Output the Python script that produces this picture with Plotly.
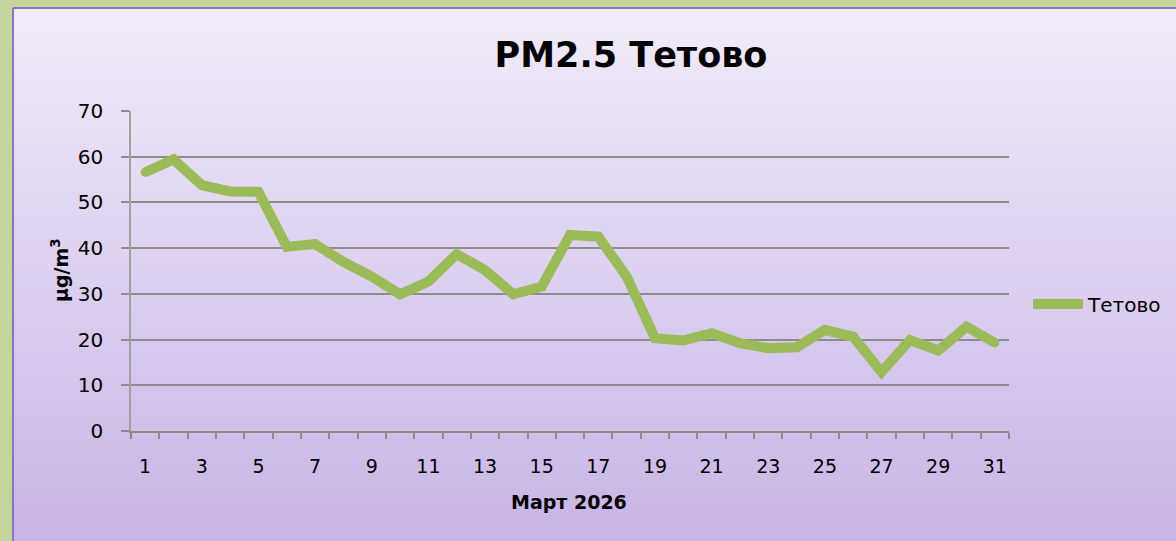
import plotly.graph_objects as go

days = list(range(1, 32))
pm25 = [56.6, 59.4, 53.8, 52.4, 52.3, 40.3, 40.9, 37.0, 33.8, 29.9,
        32.7, 38.7, 35.2, 29.9, 31.6, 42.9, 42.5, 33.8, 20.3, 19.8,
        21.4, 19.2, 18.1, 18.3, 22.1, 20.6, 12.9, 19.9, 17.6, 22.8, 19.3]
x_tick_vals = list(range(1, 32, 2))
x_tick_text = [str(v) for v in x_tick_vals]
y_tick_vals = list(range(0, 71, 10))
series_name = "Тетово"
title_text = "PM2.5 Тетово"
x_title = "Март 2026"
y_title = "μg/m<sup>3</sup>"

W, H = 1176, 541
L, R, T, B = 131, 1009, 111, 431  # plot area in px
pw, ph = R - L, B - T


def px_x(px):
    return (px - L) / pw


def px_y(py):
    return (B - py) / ph


FONT = "DejaVu Sans"
LINE_C = "#9bbb59"
fig = go.Figure()
fig.add_trace(go.Scatter(
    x=days, y=pm25, mode="lines+markers", name=series_name,
    line=dict(color=LINE_C, width=10),
    marker=dict(color=LINE_C, size=9, line=dict(width=0)),
))

# gradient background bands
shapes = []
top_c = (0xF1, 0xEC, 0xF9)
bot_c = (0xC8, 0xB4, 0xE6)
n = 90
y0p, y1p = 8, 541
for i in range(n):
    a = y0p + (y1p - y0p) * i / n
    b = y0p + (y1p - y0p) * (i + 1) / n + 1
    t = (i + 0.5) / n
    c = tuple(round(top_c[k] + (bot_c[k] - top_c[k]) * t) for k in range(3))
    shapes.append(dict(
        type="rect", xref="paper", yref="paper", layer="below",
        x0=px_x(13), x1=px_x(1180), y0=px_y(b), y1=px_y(a),
        fillcolor="rgb(%d,%d,%d)" % c, line=dict(width=0),
    ))
# purple border on left and top
shapes.append(dict(type="line", xref="paper", yref="paper", layer="below",
                   x0=px_x(13), x1=px_x(13), y0=px_y(545), y1=px_y(8),
                   line=dict(color="#8e72c4", width=2)))
shapes.append(dict(type="line", xref="paper", yref="paper", layer="below",
                   x0=px_x(13), x1=px_x(1180), y0=px_y(8), y1=px_y(8),
                   line=dict(color="#8e72c4", width=2)))

fig.update_layout(
    width=W, height=H,
    margin=dict(l=L, r=W - R, t=T, b=H - B, pad=0, autoexpand=False),
    paper_bgcolor="#c3d69b",
    plot_bgcolor="rgba(0,0,0,0)",
    shapes=shapes,
    font=dict(family=FONT, color="#000000"),
    title=dict(text="<b>%s</b>" % title_text, font=dict(family=FONT, size=35, color="#000"),
               xref="paper", x=px_x(631), xanchor="center",
               yref="container", y=1 - 55 / H, yanchor="middle"),
    showlegend=True,
    legend=dict(x=px_x(1028), y=px_y(304), xanchor="left", yanchor="middle",
                bgcolor="rgba(0,0,0,0)", font=dict(family=FONT, size=20),
                itemwidth=50),
    xaxis=dict(
        range=[0.5, 31.5], tickmode="array", tickvals=x_tick_vals, ticktext=x_tick_text,
        ticks="", showgrid=False, zeroline=False,
        showline=True, linecolor="#8c8c8c", linewidth=2,
        tickfont=dict(family=FONT, size=19), ticklabelstandoff=17,
        minor=dict(tickmode="array", tickvals=[v + 0.5 for v in range(0, 32)],
                   ticks="outside", ticklen=6, tickcolor="#8c8c8c", tickwidth=1.5,
                   showgrid=False),
    ),
    yaxis=dict(
        range=[0, 70], tickmode="array", tickvals=y_tick_vals,
        ticks="outside", ticklen=8, tickcolor="#8c8c8c", tickwidth=1.5,
        showgrid=True, gridcolor="#8c8c8c", gridwidth=1.5, zeroline=False,
        showline=True, linecolor="#a0a0a0", linewidth=1.5,
        tickfont=dict(family=FONT, size=20), ticklabelstandoff=14,
    ),
    annotations=[
        dict(text="<b>%s</b>" % x_title, xref="paper", yref="paper",
             x=px_x(569), y=px_y(502), xanchor="center", yanchor="middle",
             showarrow=False, font=dict(family=FONT, size=19)),
        dict(text="<b>%s</b>" % y_title, xref="paper", yref="paper",
             x=px_x(60), y=px_y(270), xanchor="center", yanchor="middle",
             textangle=-90, showarrow=False, font=dict(family=FONT, size=19)),
    ],
)

fig.write_html("out.html", config={"displayModeBar": False},
               post_script="document.body.style.margin='0';document.body.style.padding='0';")
